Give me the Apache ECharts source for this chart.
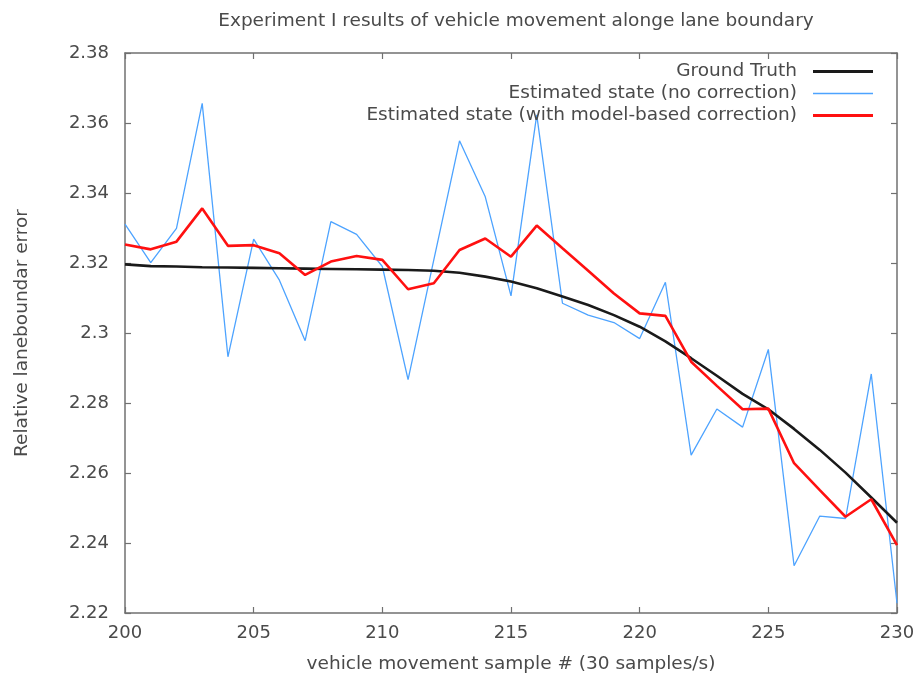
<!DOCTYPE html>
<html>
<head>
<meta charset="utf-8">
<script src="https://cdn.jsdelivr.net/npm/echarts@6/dist/echarts.min.js"></script>
<style>
html,body{margin:0;padding:0;background:#fff;}
#chart{width:918px;height:682px;}
</style>
</head>
<body>
<div id="chart"></div>
<script>
// sample numbers
var samples = [200,201,202,203,204,205,206,207,208,209,210,211,212,213,214,215,216,217,218,219,220,221,222,223,224,225,226,227,228,229,230];
var groundTruth = [2.3196,2.3191,2.3190,2.3188,2.3187,2.3186,2.3185,2.3184,2.3183,2.3182,2.3181,2.3180,2.3178,2.3172,2.3161,2.3147,2.3128,2.3104,2.3080,2.3051,2.3018,2.2976,2.2928,2.2878,2.2826,2.2782,2.2726,2.2666,2.2601,2.2530,2.2458];
var noCorrection = [2.3311,2.3201,2.3299,2.3656,2.2932,2.3268,2.3151,2.2978,2.3318,2.3282,2.3190,2.2867,2.3209,2.3549,2.3389,2.3106,2.3623,2.3085,2.3051,2.3030,2.2984,2.3145,2.2651,2.2783,2.2731,2.2953,2.2335,2.2477,2.2470,2.2883,2.2228];
var modelCorrection = [2.3253,2.3239,2.3261,2.3356,2.3249,2.3251,2.3228,2.3166,2.3204,2.3220,2.3209,2.3125,2.3142,2.3237,2.3270,2.3218,2.3307,2.3242,2.3178,2.3113,2.3056,2.3049,2.2918,2.2849,2.2782,2.2784,2.2628,2.2551,2.2475,2.2525,2.2394];
var seriesNames = ['Ground Truth','Estimated state (no correction)','Estimated state (with model-based correction)'];

function pairs(arr){ return samples.map(function(s,i){ return [s, arr[i]]; }); }

var txt = '#4a4a4a';
var font = '"DejaVu Sans", sans-serif';
var axisLine = {show:true, lineStyle:{color:'#707070', width:1.5}};
var tick = {show:true, inside:true, length:6, lineStyle:{color:'#707070', width:1.2}};
// legend line icons: tiny corner dots fix the box, a bar draws the line sample
var thickIcon = 'path://M0,0h0.01v0.01h-0.01zM0,14h0.01v-0.01h-0.01zM11,5.5h60v3h-60z';
var thinIcon  = 'path://M0,0h0.01v0.01h-0.01zM0,14h0.01v-0.01h-0.01zM11,6.3h60v1.4h-60z';
var colors = ['#1a1a1a','#4da3ff','#ff1010'];

var chart = echarts.init(document.getElementById('chart'), null, {renderer:'canvas'});
chart.setOption({
  animation:false,
  backgroundColor:'#fff',
  title:{
    text:'Experiment I results of vehicle movement alonge lane boundary',
    left:511, textAlign:'center', top:7,
    textStyle:{fontFamily:font, fontSize:18.5, fontWeight:'normal', color:txt}
  },
  legend:{
    orient:'vertical', right:40, top:57, align:'right',
    itemWidth:71, itemHeight:14, itemGap:3,
    textStyle:{fontFamily:font, fontSize:18.5, color:txt},
    data:[
      {name:seriesNames[0], icon:thickIcon},
      {name:seriesNames[1], icon:thinIcon},
      {name:seriesNames[2], icon:thickIcon}
    ]
  },
  grid:{left:125, right:21, top:53, bottom:69},
  xAxis:[{
    type:'value', min:200, max:230, interval:5,
    name:'vehicle movement sample # (30 samples/s)', nameLocation:'middle', nameGap:42,
    nameTextStyle:{fontFamily:font, fontSize:18.5, color:txt},
    axisLine:axisLine, axisTick:tick,
    axisLabel:{fontFamily:font, fontSize:18, color:txt, margin:11},
    splitLine:{show:false}
  },{
    type:'value', min:200, max:230, interval:5, position:'top',
    axisLine:axisLine, axisTick:tick,
    axisLabel:{show:false}, splitLine:{show:false}
  }],
  yAxis:[{
    type:'value', min:2.22, max:2.38, interval:0.02,
    name:'Relative laneboundar error', nameLocation:'middle', nameGap:93, nameRotate:90,
    nameTextStyle:{fontFamily:font, fontSize:18.5, color:txt},
    axisLine:axisLine, axisTick:tick,
    axisLabel:{fontFamily:font, fontSize:18, color:txt, margin:16,
      formatter:function(v){ return String(parseFloat(v.toFixed(2))); }},
    splitLine:{show:false}
  },{
    type:'value', min:2.22, max:2.38, interval:0.02, position:'right',
    axisLine:axisLine, axisTick:tick,
    axisLabel:{show:false}, splitLine:{show:false}
  }],
  series:[
    {name:seriesNames[0], type:'line', data:pairs(groundTruth), symbol:'none', z:3,
      lineStyle:{color:colors[0], width:2.6}, itemStyle:{color:colors[0], borderWidth:0}},
    {name:seriesNames[1], type:'line', data:pairs(noCorrection), symbol:'none', z:2,
      lineStyle:{color:colors[1], width:1.3}, itemStyle:{color:colors[1], borderWidth:0}},
    {name:seriesNames[2], type:'line', data:pairs(modelCorrection), symbol:'none', z:4,
      lineStyle:{color:colors[2], width:2.6}, itemStyle:{color:colors[2], borderWidth:0}}
  ]
});
</script>
</body>
</html>
